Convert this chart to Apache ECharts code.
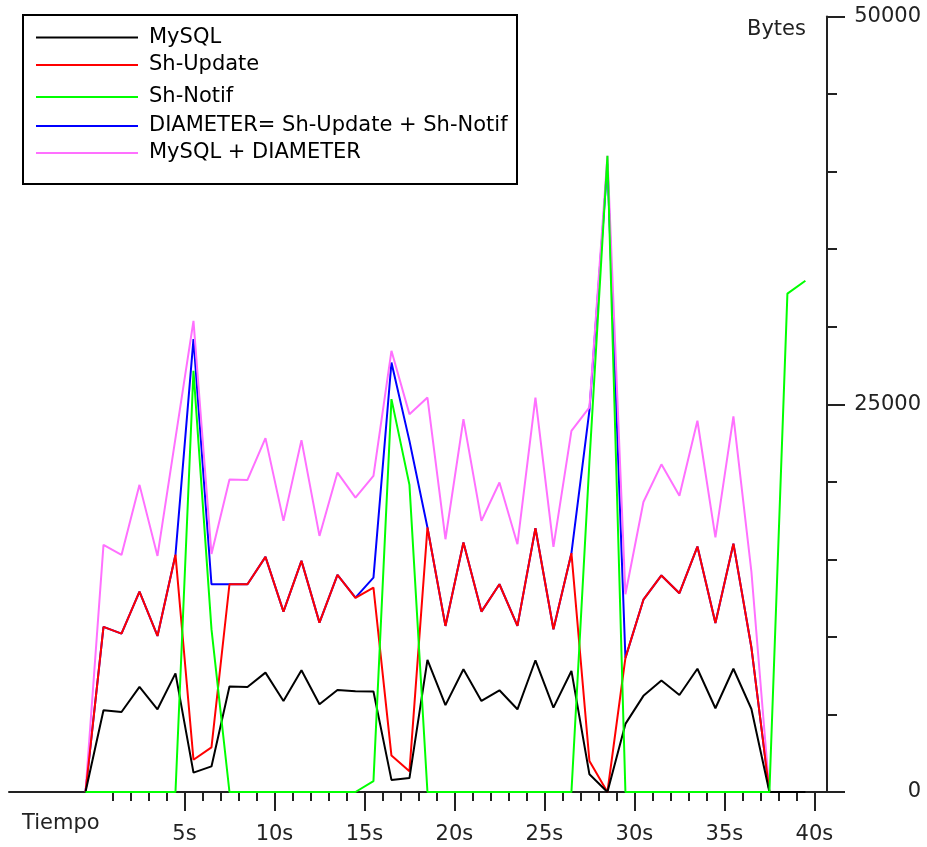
<!DOCTYPE html>
<html>
<head>
<meta charset="utf-8">
<script src="https://cdn.jsdelivr.net/npm/echarts@6/dist/echarts.min.js"></script>
<style>
html,body{margin:0;padding:0;background:#fff;}
#chart{width:927px;height:847px;}
</style>
</head>
<body>
<div id="chart"></div>
<script>
// time of each sample (seconds)
const tiempos = [-0.5,0.5,1.5,2.5,3.5,4.5,5.5,6.5,7.5,8.5,9.5,10.5,11.5,12.5,13.5,14.5,15.5,16.5,17.5,18.5,19.5,20.5,21.5,22.5,23.5,24.5,25.5,26.5,27.5,28.5,29.5,30.5,31.5,32.5,33.5,34.5,35.5,36.5,37.5,38.5,39.5];
// Bytes per series
const mysql = [0,5270,5160,6773,5333,7650,1247,1650,6800,6773,7697,5870,7847,5653,6579,6500,6480,780,900,8520,5600,7912,5870,6557,5333,8493,5440,7805,1140,0,4390,6200,7185,6256,7946,5400,7946,5353,0,0,0];
const shUpdate = [0,10643,10212,12921,10062,15300,2080,2880,13395,13395,15158,11631,14900,10922,13997,12520,13180,2350,1330,17050,10707,16083,11631,13395,10707,17006,10492,15400,2000,0,8650,12400,13964,12816,15822,10900,16009,9314,0,null,null];
const shNotif = [0,0,0,0,0,0,27155,10500,0,0,0,0,0,0,0,0,700,25330,19800,0,0,0,0,0,0,0,0,0,21300,41022,0,0,0,0,0,0,0,0,0,32134,32960];
const diameter = [0,10643,10212,12921,10062,15300,29199,13395,13395,13395,15158,11631,14900,10922,13997,12532,13823,27690,22640,17050,10707,16083,11631,13395,10707,17006,10492,15400,24600,40500,8650,12400,13964,12816,15822,10900,16009,9314,0,null,null];
const mysqlDiameter = [0,15932,15287,19802,15222,22814,30380,15351,20150,20124,22814,17480,22685,16512,20595,18983,20382,28445,24362,25432,16297,24037,17480,19952,15974,25432,15803,23285,24800,41022,12750,18700,21124,19098,23936,16422,24213,14200,0,null,null];

const legendNames = ['MySQL','Sh-Update','Sh-Notif','DIAMETER= Sh-Update + Sh-Notif','MySQL + DIAMETER'];
const xMajorTicks = [5,10,15,20,25,30,35,40];
const xMinorTicks = [];
for (let s = 1; s <= 39; s++) { if (s % 5 !== 0) xMinorTicks.push(s); }

const AX = '#222';
const FONT = 'DejaVu Sans';
const legendTops = [26.5, 54, 86, 115, 142];
const colors = {
  'MySQL':'#000000',
  'Sh-Update':'#ff0000',
  'Sh-Notif':'#00ff00',
  'DIAMETER= Sh-Update + Sh-Notif':'#0000ff',
  'MySQL + DIAMETER':'#ff70ff'
};

function mk(name, arr, z) {
  const c = colors[name];
  return {
    name: name, type: 'line', z: z,
    data: tiempos.map((t, i) => [t, arr[i]]),
    showSymbol: false, symbol: 'none', silent: true,
    color: c,
    lineStyle: { width: 2, color: c },
    itemStyle: { color: c }
  };
}

const chart = echarts.init(document.getElementById('chart'), null, { renderer: 'canvas' });
const option = {
  animation: false,
  backgroundColor: '#ffffff',
  textStyle: { fontFamily: FONT },
  title: [
    { text: 'Bytes', left: 747, top: 19, padding: 0,
      textStyle: { fontSize: 21, fontWeight: 'normal', color: AX, fontFamily: FONT } },
    { text: 'Tiempo', left: 22, top: 813, padding: 0,
      textStyle: { fontSize: 21, fontWeight: 'normal', color: AX, fontFamily: FONT } }
  ],
  legend: legendNames.map((n, i) => ({
    data: [n], left: 36, top: legendTops[i], padding: 0,
    icon: 'rect', itemWidth: 102, itemHeight: 2, selectedMode: false,
    textStyle: { fontSize: 21, color: '#000', lineHeight: 22, padding: [0, 0, 0, 6], fontFamily: FONT }
  })),
  graphic: [
    { type: 'rect', shape: { x: 23, y: 15, width: 494, height: 169 },
      style: { fill: 'none', stroke: '#000', lineWidth: 2 }, silent: true }
  ],
  grid: { left: 9, right: 100, top: 16.5, bottom: 55 },
  xAxis: [
    {
      type: 'value', min: -4.75, max: 40.7, position: 'bottom',
      axisLine: { show: true, onZero: false, lineStyle: { color: AX, width: 2 } },
      axisTick: { show: true, customValues: xMajorTicks, length: 19, lineStyle: { color: AX, width: 2 } },
      axisLabel: { show: true, customValues: xMajorTicks, formatter: v => v + 's',
        fontSize: 21, color: AX, margin: 32, fontFamily: FONT },
      splitLine: { show: false }
    },
    {
      type: 'value', min: -4.75, max: 40.7, position: 'bottom',
      axisLine: { show: false, onZero: false },
      axisTick: { show: true, customValues: xMinorTicks, length: 9, lineStyle: { color: AX, width: 2 } },
      axisLabel: { show: false },
      splitLine: { show: false }
    }
  ],
  yAxis: {
    type: 'value', position: 'right', min: 0, max: 50000, interval: 25000,
    axisLine: { show: true, onZero: false, lineStyle: { color: AX, width: 2 } },
    axisTick: { show: true, length: 18, lineStyle: { color: AX, width: 2 } },
    minorTick: { show: true, splitNumber: 5, length: 10, lineStyle: { color: AX, width: 2 } },
    axisLabel: { align: 'right', margin: 94, fontSize: 21, color: AX, fontFamily: FONT,
      formatter: v => String(v) },
    splitLine: { show: false },
    minorSplitLine: { show: false }
  },
  series: [
    mk('DIAMETER= Sh-Update + Sh-Notif', diameter, 2),
    mk('MySQL + DIAMETER', mysqlDiameter, 3),
    mk('Sh-Update', shUpdate, 4),
    mk('MySQL', mysql, 5),
    mk('Sh-Notif', shNotif, 6)
  ]
};
chart.setOption(option);
</script>
</body>
</html>
